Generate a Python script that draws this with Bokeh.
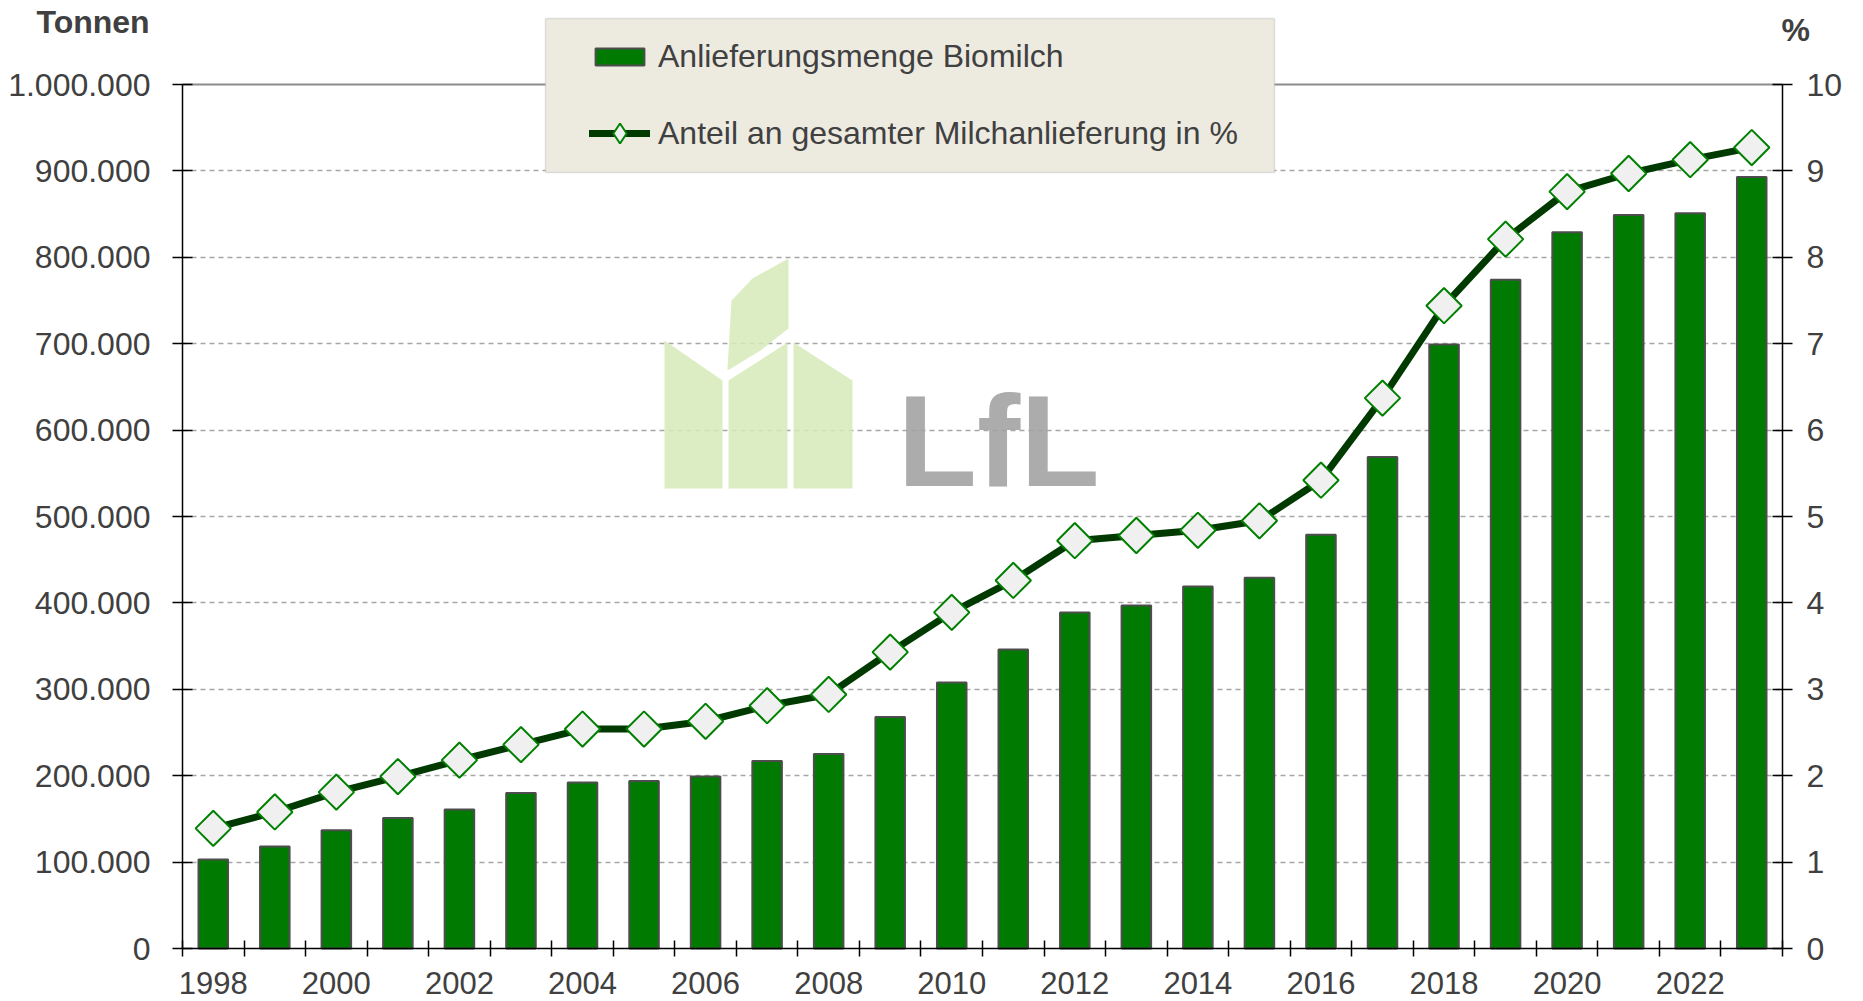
from math import pi

from bokeh.plotting import figure
from bokeh.models import (Range1d, LinearAxis, FixedTicker, Label, Legend, Grid,
                          LegendItem, BoxAnnotation, PolyAnnotation, ColumnDataSource)
from bokeh.embed import file_html
from bokeh.resources import INLINE

# ---------------- data ----------------
years = list(range(1998, 2024))
amount_t = [103000, 118000, 137000, 151000, 161000, 180000, 192000, 194000, 199000,
            217000, 225000, 268000, 308000, 346000, 389000, 397000, 419000, 429000,
            479000, 569000, 699000, 774000, 829000, 849000, 851000, 893000]
share_pct = [1.39, 1.58, 1.81, 1.99, 2.18, 2.36, 2.54, 2.54, 2.63, 2.81, 2.94, 3.43,
             3.89, 4.26, 4.72, 4.78, 4.84, 4.95, 5.42, 6.37, 7.44, 8.21, 8.76, 8.97,
             9.13, 9.27]
y_ticks = [0, 100000, 200000, 300000, 400000, 500000, 600000, 700000, 800000, 900000, 1000000]
y_tick_labels = ["0", "100.000", "200.000", "300.000", "400.000", "500.000", "600.000",
                 "700.000", "800.000", "900.000", "1.000.000"]
pct_ticks = [0, 1, 2, 3, 4, 5, 6, 7, 8, 9, 10]
pct_tick_labels = ["0", "1", "2", "3", "4", "5", "6", "7", "8", "9", "10"]
x_label_years = [1998, 2000, 2002, 2004, 2006, 2008, 2010, 2012, 2014, 2016, 2018, 2020, 2022]
x_labels = ["1998", "2000", "2002", "2004", "2006", "2008", "2010", "2012", "2014",
            "2016", "2018", "2020", "2022"]
bar_label = "Anlieferungsmenge Biomilch"
line_label = "Anteil an gesamter Milchanlieferung in %"
left_title = "Tonnen"
right_title = "%"
logo_text = "LfL"

# ---------------- layout (canvas pixels) ----------------
W, H = 1863, 1001
PL, PR, PT, PB = 182, 1782, 84, 948          # plot area edges in canvas pixels
FONT = "Liberation Sans"
TXT = "#404040"

x_lo, x_hi = years[0] - 0.5, years[-1] + 0.5
y_lo, y_hi = y_ticks[0], y_ticks[-1]
p_lo, p_hi = pct_ticks[0], pct_ticks[-1]
px_x = (PR - PL) / (x_hi - x_lo)
px_y = (PB - PT) / (y_hi - y_lo)
px_p = (PB - PT) / (p_hi - p_lo)

def dx(px):   # canvas px -> x data
    return x_lo + (px - PL) / px_x

def dy(py):   # canvas px -> y data
    return y_lo + (PB - py) / px_y

boundaries = [y - 0.5 for y in years] + [years[-1] + 0.5]

p = figure(width=W, height=H, output_backend="svg", toolbar_location=None,
           x_range=Range1d(dx(0), dx(W)), y_range=Range1d(dy(H), dy(0)),
           min_border=0, min_border_left=0, min_border_right=0,
           min_border_top=0, min_border_bottom=0,
           background_fill_color="white", border_fill_color="white",
           outline_line_color=None)
p.extra_y_ranges = {"pct": Range1d(p_lo - (H - PB) / px_p, p_hi + PT / px_p)}

# grid
p.xgrid.visible = False
p.ygrid.ticker = FixedTicker(ticks=y_ticks[1:-1])
p.ygrid.grid_line_color = "#A6A6A6"
p.ygrid.grid_line_dash = "5 4"
p.ygrid.grid_line_width = 1.5
p.ygrid.cross_bounds = (x_lo, x_hi)
top_line = Grid(dimension=1, ticker=FixedTicker(ticks=[y_hi]), grid_line_color="#8C8C8C",
                grid_line_width=2, cross_bounds=(x_lo, x_hi))
p.add_layout(top_line)

# bottom axis
xax = p.xaxis[0]
xax.fixed_location = y_lo
xax.bounds = (x_lo, x_hi)
xax.ticker = FixedTicker(ticks=x_label_years, minor_ticks=boundaries)
xax.major_label_overrides = {t: s for t, s in zip(x_label_years, x_labels)}
xax.major_tick_in = 0
xax.major_tick_out = 0
xax.minor_tick_in = 8
xax.minor_tick_out = 8
xax.minor_tick_line_color = "black"
xax.minor_tick_line_width = 1.5
xax.major_label_standoff = 15

# left axis
yax = p.yaxis[0]
yax.fixed_location = x_lo
yax.bounds = (y_lo, y_hi)
yax.ticker = FixedTicker(ticks=y_ticks)
yax.major_label_overrides = {t: s for t, s in zip(y_ticks, y_tick_labels)}
yax.major_tick_in = 10
yax.major_tick_out = 10
yax.major_label_standoff = 22
yax.minor_tick_line_color = None

# right axis
rax = LinearAxis(y_range_name="pct", ticker=FixedTicker(ticks=pct_ticks),
                 major_label_overrides={t: s for t, s in zip(pct_ticks, pct_tick_labels)},
                 fixed_location=x_hi, bounds=(p_lo, p_hi))
rax.major_tick_in = 10
rax.major_tick_out = 10
rax.major_label_standoff = 14
rax.minor_tick_line_color = None
p.add_layout(rax, "right")

for ax in [xax, yax, rax]:
    ax.axis_line_color = "black"
    ax.axis_line_width = 1.5
    ax.major_tick_line_color = "black"
    ax.major_tick_line_width = 1.5
    ax.major_label_text_font = FONT
    ax.major_label_text_font_size = "32px"
    ax.major_label_text_color = TXT
xax.major_label_text_font_size = "31px"

# ---------------- watermark (drawn first, behind everything) ----------------
leaf_color = "#D6EABA"
leaf_shapes = [
    ([727, 731, 752, 788, 788, 760, 727], [368, 300, 278, 258, 328, 350, 370]),
    ([664, 722, 722, 664], [340, 380, 488, 488]),
    ([728, 787, 787, 728], [380, 342, 488, 488]),
    ([793, 852, 852, 793], [342, 380, 488, 488]),
]
for xs, ys in leaf_shapes:
    p.add_layout(PolyAnnotation(xs=[dx(v) for v in xs], ys=[dy(v) for v in ys],
                                fill_color=leaf_color, fill_alpha=0.85, line_color=None,
                                level="underlay"))
p.add_layout(Label(x=897, y=H - 440, x_units="screen", y_units="screen", text=logo_text,
                   text_font=FONT, text_font_style="bold", text_font_size="130px",
                   text_color="#A3A3A3", text_alpha=0.9, text_baseline="alphabetic",
                   level="underlay"))

# ---------------- glyphs ----------------
src = ColumnDataSource(dict(year=years, amount=amount_t, share=share_pct))
bars = p.vbar(x="year", top="amount", width=0.48, source=src,
              fill_color="#007A00", line_color="#4D4D4D", line_width=2)
line = p.line(x="year", y="share", source=src, y_range_name="pct",
              line_color="#003A00", line_width=7, line_join="round", line_cap="round")
pts = p.scatter(x="year", y="share", source=src, y_range_name="pct", marker="square",
                angle=pi / 4, size=25, fill_color="#F0F0F0", line_color="#008000", line_width=2)
# a hidden copy of the markers, used only to draw the legend symbol
legend_marker = p.scatter(x="year", y="share", source=src, y_range_name="pct", marker="diamond",
                          fill_color="#F0F0F0", line_color="#008000",
                          line_width=2, visible=False)

# axis titles
p.add_layout(Label(x=36, y=H - 21, x_units="screen", y_units="screen", text=left_title,
                   text_font=FONT, text_font_style="bold", text_font_size="32px",
                   text_color=TXT, text_baseline="alphabetic"))
p.add_layout(Label(x=1781, y=H - 29, x_units="screen", y_units="screen", text=right_title,
                   text_font=FONT, text_font_style="bold", text_font_size="32px",
                   text_color=TXT, text_baseline="alphabetic"))

# legend box
p.add_layout(BoxAnnotation(left=dx(545), right=dx(1274), top=dy(18), bottom=dy(172),
                           fill_color="#EDEAE0", fill_alpha=1.0,
                           line_color="#A6A6A6", line_width=1.5))

leg_a = Legend(items=[LegendItem(label=bar_label, renderers=[bars])],
               location=(589, H - 75), glyph_width=61, glyph_height=21)
leg_b = Legend(items=[LegendItem(label=line_label, renderers=[line, legend_marker])],
               location=(589, H - 158), glyph_width=61, glyph_height=50)
for lg in (leg_a, leg_b):
    lg.padding = 0
    lg.margin = 0
    lg.spacing = 0
    lg.label_standoff = 8
    lg.border_line_color = None
    lg.background_fill_alpha = 0
    lg.inactive_fill_alpha = 0
    lg.label_text_font = FONT
    lg.label_text_font_size = "32px"
    lg.label_text_color = TXT
    p.add_layout(lg)

open("out.html", "w").write(file_html(p, INLINE))
